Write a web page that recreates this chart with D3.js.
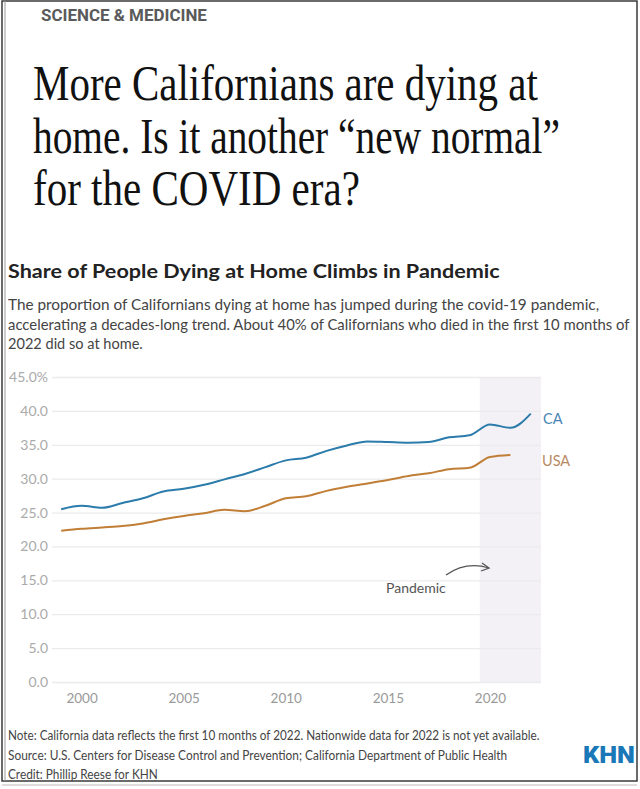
<!DOCTYPE html>
<html>
<head>
<meta charset="utf-8">
<script src="https://cdn.jsdelivr.net/npm/d3@7"></script>
<style>
  html, body { margin: 0; padding: 0; background: #fff; }
  svg { display: block; }
</style>
</head>
<body>
<div id="chart"></div>
<script>
// ---- Data ----
const years = [1999, 2000, 2001, 2002, 2003, 2004, 2005, 2006, 2007, 2008, 2009, 2010,
               2011, 2012, 2013, 2014, 2015, 2016, 2017, 2018, 2019, 2020, 2021, 2022];
const caValues = [25.5, 26.0, 25.7, 26.4, 27.1, 28.1, 28.5, 29.1, 29.9, 30.7, 31.7, 32.7,
                  33.1, 34.1, 34.9, 35.5, 35.4, 35.3, 35.4, 36.1, 36.4, 38.0, 37.5, 39.6];
const usaValues = [22.3, 22.6, 22.8, 23.0, 23.4, 24.0, 24.5, 24.9, 25.4, 25.2, 26.0, 27.1,
                   27.4, 28.2, 28.8, 29.3, 29.8, 30.4, 30.8, 31.4, 31.6, 33.2, 33.5];
const yTicks = [0, 5, 10, 15, 20, 25, 30, 35, 40, 45];
const xTicks = [2000, 2005, 2010, 2015, 2020];
const pandemicSpan = [2019.5, 2022.5];
const seriesNames = ["CA", "USA"];

const headlineLines = ["More Californians are dying at",
                       "home. Is it another \u201cnew normal\u201d",
                       "for the COVID era?"];
const subtitleLines = ["The proportion of Californians dying at home has jumped during the covid-19 pandemic,",
                       "accelerating a decades-long trend. About 40% of Californians who died in the first 10 months of",
                       "2022 did so at home."];
const footerLines = ["Note: California data reflects the first 10 months of 2022. Nationwide data for 2022 is not yet available.",
                     "Source: U.S. Centers for Disease Control and Prevention; California Department of Public Health",
                     "Credit: Phillip Reese for KHN"];

// ---- Layout ----
const W = 640, H = 789;
const svg = d3.select("#chart").append("svg").attr("width", W).attr("height", H);

const sans = "'Source Sans Pro', Lato, 'Open Sans', sans-serif";

// place a text at (x,y) and squeeze it horizontally to a target width
function fitText(parent, str, x, y, width, attrs) {
  const t = parent.append("text").attr("x", 0).attr("y", 0).text(str);
  Object.entries(attrs).forEach(([k, v]) => t.attr(k, v));
  const natural = t.node().getComputedTextLength();
  const s = width / natural;
  t.attr("transform", `translate(${x},${y}) scale(${s},1)`);
  return t;
}

// frame
svg.append("rect").attr("x", 2).attr("y", 1).attr("width", 635).attr("height", 780)
  .attr("fill", "none").attr("stroke", "#3a3a3a").attr("stroke-width", 1.5);
svg.append("line").attr("x1", 5).attr("x2", 5).attr("y1", 1).attr("y2", 781)
  .attr("stroke", "#9a9a9a").attr("stroke-width", 1);
svg.append("line").attr("x1", 2).attr("x2", 637).attr("y1", 785).attr("y2", 785)
  .attr("stroke", "#bbb").attr("stroke-width", 1);

// header
fitText(svg, "SCIENCE & MEDICINE", 41, 21, 166, {
  "font-family": "Roboto, sans-serif", "font-weight": 700, "font-size": 16, "fill": "#5a5a5a"
});

const headlineWidths = [505, 527, 327];
headlineLines.forEach((t, i) => {
  fitText(svg, t, 33, 100 + i * 52.5, headlineWidths[i], {
    "font-family": "'Liberation Serif', 'Times New Roman', serif",
    "font-size": 50, "fill": "#111"
  });
});

// chart title
fitText(svg, "Share of People Dying at Home Climbs in Pandemic", 8, 278, 492, {
  "font-family": sans, "font-weight": 700, "font-size": 19, "fill": "#222"
});

const subWidths = [592, 622, 135];
subtitleLines.forEach((t, i) => {
  fitText(svg, t, 8, 310 + i * 19.5, subWidths[i], {
    "font-family": sans, "font-size": 14.5, "fill": "#444"
  });
});

// ---- Plot ----
const x = d3.scaleLinear().domain([1998.55, 2022.5]).range([52, 541]);
const y = d3.scaleLinear().domain([0, 45]).range([682, 377]);

const g = svg.append("g");

// pandemic shading
g.append("rect")
  .attr("x", x(pandemicSpan[0])).attr("y", y(45))
  .attr("width", x(pandemicSpan[1]) - x(pandemicSpan[0]))
  .attr("height", y(0) - y(45))
  .attr("fill", "#f3f1f5");

// y axis + gridlines
const yAxis = d3.axisLeft(y).tickValues(yTicks).tickSize(-(541 - 52)).tickPadding(4)
  .tickFormat(d => d === 45 ? "45.0%" : d3.format(".1f")(d));
const yg = g.append("g").attr("transform", "translate(52,0)").call(yAxis);
yg.select(".domain").remove();
yg.selectAll(".tick line").attr("stroke", "#ebebee").attr("stroke-width", 1.3);
yg.selectAll(".tick text").attr("font-family", sans).attr("font-size", 14).attr("fill", "#aaa")
  .attr("x", -4);

// x axis
const xAxis = d3.axisBottom(x).tickValues(xTicks).tickSize(0).tickPadding(11)
  .tickFormat(d3.format("d"));
const xg = g.append("g").attr("transform", "translate(0,682)").call(xAxis);
xg.select(".domain").remove();
xg.selectAll(".tick text").attr("font-family", sans).attr("font-size", 13.5).attr("fill", "#999");

// lines
const line = d3.line().x(d => x(d[0])).y(d => y(d[1])).curve(d3.curveMonotoneX);
const caData = years.map((yr, i) => [yr, caValues[i]]);
const usaData = years.slice(0, usaValues.length).map((yr, i) => [yr, usaValues[i]]);

g.append("path").datum(usaData).attr("d", line)
  .attr("fill", "none").attr("stroke", "#c07e36").attr("stroke-width", 2);
g.append("path").datum(caData).attr("d", line)
  .attr("fill", "none").attr("stroke", "#2b7bab").attr("stroke-width", 2);

// series labels
g.append("text").attr("x", 543).attr("y", y(caValues[caValues.length - 1]) + 10)
  .attr("font-family", sans).attr("font-size", 14.5).attr("fill", "#4a86b5").text(seriesNames[0]);
g.append("text").attr("x", 542).attr("y", y(usaValues[usaValues.length - 1]) + 11)
  .attr("font-family", sans).attr("font-size", 14.5).attr("fill", "#b88a62").text(seriesNames[1]);

// pandemic annotation
g.append("text").attr("x", 386).attr("y", 593)
  .attr("font-family", sans).attr("font-size", 14).attr("fill", "#555").text("Pandemic");
const ax0 = 446, ay0 = 575, ax1 = 489, ay1 = 568;
g.append("path")
  .attr("d", `M${ax0},${ay0} Q${ax0 + 20},${ay0 - 14} ${ax1},${ay1}`)
  .attr("fill", "none").attr("stroke", "#555").attr("stroke-width", 1.3);
g.append("path")
  .attr("d", `M${ax1 - 7},${ay1 - 5} L${ax1},${ay1} L${ax1 - 8},${ay1 + 3}`)
  .attr("fill", "none").attr("stroke", "#555").attr("stroke-width", 1.3);

// footer
const footWidths = [532, 500, 150];
footerLines.forEach((t, i) => {
  fitText(svg, t, 8, 740 + i * 19.5, footWidths[i], {
    "font-family": sans, "font-size": 13, "fill": "#444"
  });
});

// KHN logo
fitText(svg, "KHN", 583, 763, 52, {
  "font-family": "Roboto, sans-serif", "font-weight": 900, "font-size": 24, "fill": "#1a78b8"
});
</script>
</body>
</html>
